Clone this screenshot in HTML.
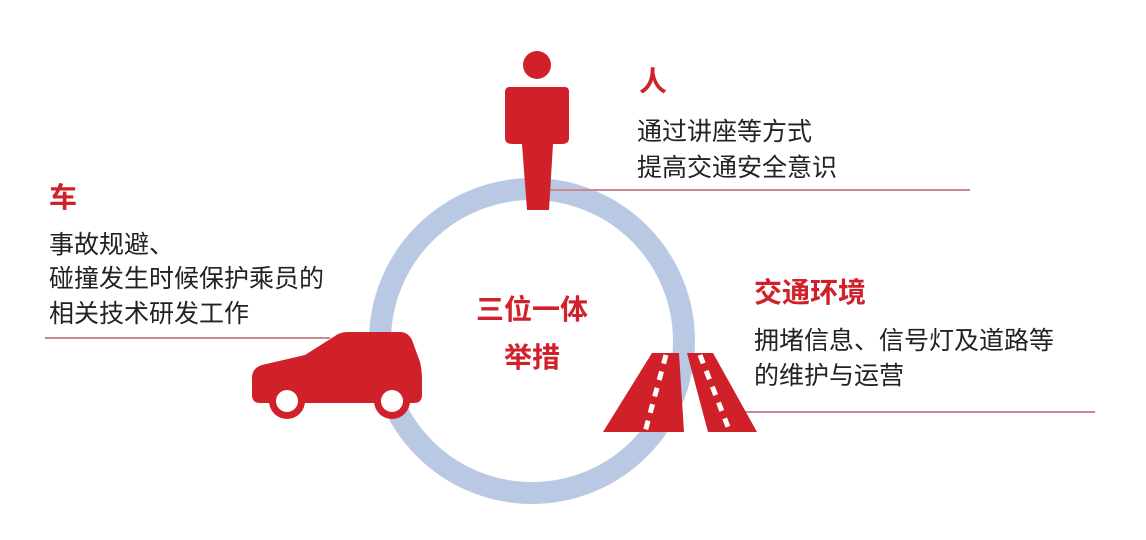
<!DOCTYPE html>
<html><head><meta charset="utf-8"><style>
body{margin:0;width:1146px;height:540px;background:#fff;position:relative;overflow:hidden;font-family:"Liberation Sans","Noto Sans CJK SC",sans-serif}
.t{position:absolute;white-space:nowrap;font-size:25px;line-height:26px;color:#222}
.r{position:absolute;white-space:nowrap;color:#d0202a;font-weight:bold;font-size:28px;line-height:28px}
svg{position:absolute;left:0;top:0}
</style></head><body>
<svg width="1146" height="540">
<circle cx="532" cy="341" r="152" fill="none" stroke="#b9c9e3" stroke-width="22"/>
<line x1="548" y1="190" x2="970" y2="190" stroke="#c98a8e" stroke-width="2"/>
<line x1="45" y1="338" x2="330" y2="338" stroke="#c98a8e" stroke-width="2"/>
<line x1="740" y1="412" x2="1095" y2="412" stroke="#c98a8e" stroke-width="2"/>
<circle cx="537" cy="65" r="14" fill="#d0202a"/>
<path d="M510 87 H565 Q569 87 569 92 V138 Q569 144 562 144 H553 L549 210 H527 L522 144 H512 Q505 144 505 138 V92 Q505 87 510 87Z" fill="#d0202a"/>
<path d="M252 395 V378 Q252 368 262 365 L305 355 L335 336 Q340 332 348 332 H400 Q408 332 412 340 L420 362 Q422 370 422 380 V395 Q422 403 414 403 H260 Q252 403 252 395Z" fill="#d0202a"/>
<circle cx="287" cy="401" r="18" fill="#d0202a"/><circle cx="287" cy="401" r="11" fill="#fff"/>
<circle cx="392" cy="401" r="18" fill="#d0202a"/><circle cx="392" cy="401" r="11" fill="#fff"/>
<polygon points="652,353 679,353 684,432 603,432" fill="#d0202a"/>
<polygon points="687,353 713,353 757,432 708,432" fill="#d0202a"/>
<line x1="666" y1="355" x2="645" y2="432" stroke="#fff" stroke-width="5" stroke-dasharray="9,8"/>
<line x1="700" y1="355" x2="730" y2="432" stroke="#fff" stroke-width="5" stroke-dasharray="9,8"/>
</svg>
<div class="r" style="left:639px;top:68px">人</div>
<div class="t" style="left:637px;top:119px">通过讲座等方式</div>
<div class="t" style="left:637px;top:155px">提高交通安全意识</div>
<div class="r" style="left:49px;top:184px">车</div>
<div class="t" style="left:49px;top:232px">事故规避、</div>
<div class="t" style="left:49px;top:266px">碰撞发生时候保护乘员的</div>
<div class="t" style="left:49px;top:301px">相关技术研发工作</div>
<div class="r" style="left:754px;top:279px">交通环境</div>
<div class="t" style="left:754px;top:328px">拥堵信息、信号灯及道路等</div>
<div class="t" style="left:754px;top:363px">的维护与运营</div>
<div class="r" style="left:432px;top:296px;width:200px;text-align:center">三位一体</div>
<div class="r" style="left:432px;top:344px;width:200px;text-align:center">举措</div>
</body></html>
